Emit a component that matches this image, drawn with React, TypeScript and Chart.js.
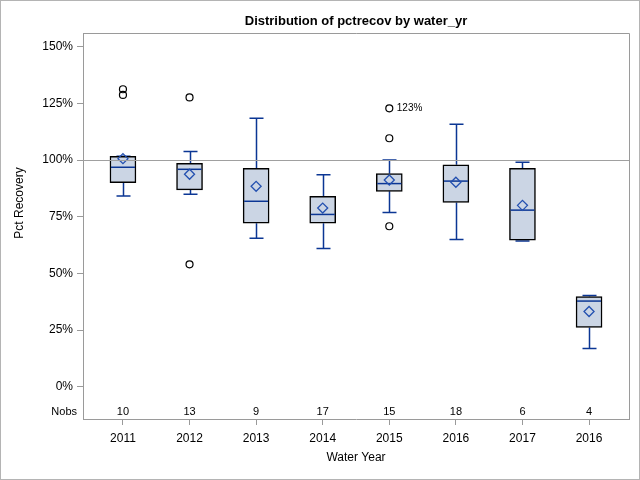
import React, { useEffect, useRef } from "react";
import { Chart, registerables } from "chart.js";

Chart.register(...registerables);

const categories = ["2011", "2012", "2013", "2014", "2015", "2016", "2017", "2016"];
const q1 = [90.0, 86.8, 72.1, 72.1, 86.2, 81.3, 64.6, 26.2];
const medians = [96.8, 95.9, 81.8, 76.0, 89.6, 90.7, 77.9, 37.8];
const q3 = [101.6, 98.5, 96.3, 84.0, 94.0, 97.9, 96.3, 39.8];
const whiskerLow = [84.1, 84.9, 65.5, 61.0, 76.9, 65.0, 64.3, 16.9];
const whiskerHigh = [101.6, 103.8, 118.4, 93.5, 100.0, 115.8, 99.0, 40.3];
const means = [100.6, 93.7, 88.4, 78.8, 91.2, 90.2, 80.0, 33.2];
const nobs = [10, 13, 9, 17, 15, 18, 6, 4];
const outlierCat = [0, 0, 1, 1, 4, 4, 4];
const outlierValues = [131.2, 128.7, 127.6, 54.0, 122.8, 109.6, 70.8];
const outlierLabels = ["", "", "", "", "123%", "", ""];
const yTickValues = [0, 25, 50, 75, 100, 125, 150];
const referenceValue = 100;

const FONT = '"Liberation Sans", Arial, sans-serif';
const BOX_FILL = "#cbd5e4";
const WHISKER = "#0b3694";
const MEAN_COLOR = "#2350b0";
const FRAME = "#9a9a9a";

const boxPlugin = {
  id: "boxParts",
  beforeDatasetsDraw(chart: any) {
    const { ctx } = chart;
    const x = chart.scales.x;
    const y = chart.scales.y;
    ctx.save();
    ctx.strokeStyle = WHISKER;
    ctx.lineWidth = 1.5;
    categories.forEach((_, i) => {
      const px = Math.round(x.getPixelForValue(i)) + 0.5;
      const half = 7;
      ctx.beginPath();
      ctx.moveTo(px, y.getPixelForValue(whiskerLow[i]));
      ctx.lineTo(px, y.getPixelForValue(q1[i]));
      ctx.moveTo(px, y.getPixelForValue(q3[i]));
      ctx.lineTo(px, y.getPixelForValue(whiskerHigh[i]));
      ctx.moveTo(px - half, y.getPixelForValue(whiskerLow[i]));
      ctx.lineTo(px + half, y.getPixelForValue(whiskerLow[i]));
      ctx.moveTo(px - half, y.getPixelForValue(whiskerHigh[i]));
      ctx.lineTo(px + half, y.getPixelForValue(whiskerHigh[i]));
      ctx.stroke();
    });
    ctx.restore();
  },
  afterDatasetDraw(chart: any, args: any) {
    if (args.index !== 0) return;
    const { ctx } = chart;
    const x = chart.scales.x;
    const y = chart.scales.y;
    ctx.save();
    ctx.strokeStyle = WHISKER;
    ctx.lineWidth = 1.5;
    categories.forEach((_, i) => {
      const px = x.getPixelForValue(i);
      const py = y.getPixelForValue(medians[i]);
      ctx.beginPath();
      ctx.moveTo(px - 12, py);
      ctx.lineTo(px + 12, py);
      ctx.stroke();
    });
    ctx.restore();
  },
  afterDatasetsDraw(chart: any) {
    const { ctx, chartArea } = chart;
    const x = chart.scales.x;
    const y = chart.scales.y;
    ctx.save();
    ctx.strokeStyle = "#a0a0a0";
    ctx.lineWidth = 1;
    const ry = Math.round(y.getPixelForValue(referenceValue)) + 0.5;
    ctx.beginPath();
    ctx.moveTo(chartArea.left, ry);
    ctx.lineTo(chartArea.right, ry);
    ctx.stroke();
    ctx.strokeStyle = FRAME;
    ctx.beginPath();
    ctx.moveTo(chartArea.left, Math.round(chartArea.top) + 0.5);
    ctx.lineTo(Math.round(chartArea.right) + 0.5, Math.round(chartArea.top) + 0.5);
    ctx.lineTo(Math.round(chartArea.right) + 0.5, chartArea.bottom);
    ctx.stroke();
    ctx.fillStyle = "#000";
    ctx.font = `10px ${FONT}`;
    ctx.textAlign = "left";
    ctx.textBaseline = "middle";
    outlierLabels.forEach((lab, k) => {
      if (!lab) return;
      ctx.fillText(lab, x.getPixelForValue(outlierCat[k]) + 7.5, y.getPixelForValue(outlierValues[k]));
    });
    ctx.font = `11px ${FONT}`;
    ctx.textAlign = "center";
    const ny = chartArea.bottom - 7.5;
    nobs.forEach((n, i) => {
      ctx.fillText(String(n), x.getPixelForValue(i), ny);
    });
    ctx.textAlign = "right";
    ctx.fillText("Nobs", chartArea.left - 6, ny);
    ctx.restore();
  },
  afterDraw(chart: any) {
    const { ctx, chartArea, width, height } = chart;
    ctx.save();
    ctx.fillStyle = "#000";
    ctx.textAlign = "center";
    ctx.textBaseline = "middle";
    ctx.font = `bold 13px ${FONT}`;
    ctx.fillText("Distribution of pctrecov by water_yr", (chartArea.left + chartArea.right) / 2, 21);
    ctx.font = `12px ${FONT}`;
    ctx.fillText("Water Year", (chartArea.left + chartArea.right) / 2, 458);
    ctx.translate(20, 203);
    ctx.rotate(-Math.PI / 2);
    ctx.fillText("Pct Recovery", 0, 0);
    ctx.restore();
    ctx.save();
    ctx.strokeStyle = "#b4b4b4";
    ctx.lineWidth = 1;
    ctx.strokeRect(0.5, 0.5, width - 1, height - 1);
    ctx.restore();
  },
};

export default function App() {
  const ref = useRef<HTMLCanvasElement | null>(null);
  useEffect(() => {
    document.body.style.margin = "0";
    const canvas = ref.current;
    if (!canvas) return;
    const chart = new Chart(canvas, {
      type: "bar",
      data: {
        datasets: [
          {
            type: "bar",
            data: categories.map((_, i) => ({ x: i, y: [q1[i], q3[i]] })),
            backgroundColor: BOX_FILL,
            borderColor: "#000",
            borderWidth: 1.5,
            borderSkipped: false,
            barThickness: 26,
            grouped: false,
            order: 3,
          } as any,
          {
            type: "scatter",
            data: means.map((m, i) => ({ x: i, y: m })),
            pointStyle: "rectRot",
            pointRadius: 5,
            borderColor: MEAN_COLOR,
            backgroundColor: "rgba(0,0,0,0)",
            borderWidth: 1.3,
            order: 1,
          } as any,
          {
            type: "scatter",
            data: outlierValues.map((v, k) => ({ x: outlierCat[k], y: v })),
            pointStyle: "circle",
            pointRadius: 3.5,
            borderColor: "#000",
            backgroundColor: "rgba(0,0,0,0)",
            borderWidth: 1.2,
            order: 2,
          } as any,
        ],
      },
      options: {
        animation: false,
        responsive: false,
        events: [],
        layout: { padding: { top: 33, right: 11, left: 0, bottom: 0 } },
        plugins: { legend: { display: false }, tooltip: { enabled: false }, title: { display: false } },
        scales: {
          x: {
            type: "linear",
            min: -0.6,
            max: 7.6,
            offset: false,
            afterBuildTicks: (s: any) => {
              s.ticks = categories.map((_, i) => ({ value: i }));
            },
            afterFit: (s: any) => {
              s.height = 61;
            },
            ticks: {
              callback: (v: any) => categories[v],
              font: { size: 12, family: FONT },
              color: "#000",
              padding: 6,
              maxRotation: 0,
              autoSkip: false,
            },
            grid: { offset: false, drawOnChartArea: false, drawTicks: true, tickLength: 6, color: FRAME },
            border: { display: true, color: FRAME },
          },
          y: {
            type: "linear",
            min: -14.2,
            max: 156,
            afterBuildTicks: (s: any) => {
              s.ticks = yTickValues.map((v) => ({ value: v }));
            },
            afterFit: (s: any) => {
              s.width = 83;
            },
            ticks: {
              callback: (v: any) => `${v}%`,
              font: { size: 12, family: FONT },
              color: "#000",
              padding: 4,
            },
            grid: { drawOnChartArea: false, drawTicks: true, tickLength: 6, color: FRAME },
            border: { display: true, color: FRAME },
          },
        },
      } as any,
      plugins: [boxPlugin],
    });
    return () => chart.destroy();
  }, []);
  return (
    <div style={{ width: 640, height: 480 }}>
      <canvas ref={ref} width={640} height={480} style={{ display: "block" }} />
    </div>
  );
}
